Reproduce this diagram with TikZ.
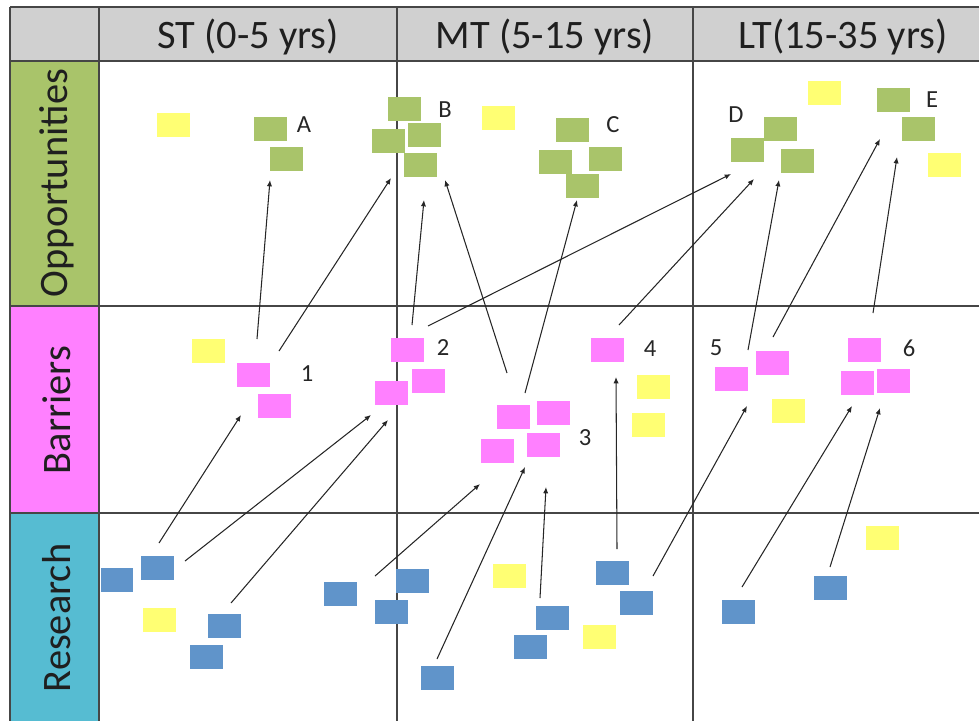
\documentclass[tikz,border=0pt]{standalone}
\usepackage{fontspec}
\setmainfont{Carlito}
\usetikzlibrary{arrows.meta}

\definecolor{hdrgray}{RGB}{208,208,208}
\definecolor{oppgreen}{RGB}{169,196,106}
\definecolor{barpink}{RGB}{255,128,255}
\definecolor{rescyan}{RGB}{86,188,210}
\definecolor{noteblue}{RGB}{96,148,202}
\definecolor{noteyellow}{RGB}{255,255,115}
\definecolor{gridline}{RGB}{70,70,70}

\tikzset{
  note/.style={minimum width=0.66cm, minimum height=0.48cm, inner sep=0pt, outer sep=0pt},
  gnote/.style={note, fill=oppgreen},
  pnote/.style={note, fill=barpink},
  bnote/.style={note, fill=noteblue},
  ynote/.style={note, fill=noteyellow},
  tag/.style={font=\fontsize{14}{16}\selectfont, text=black!85},
  head/.style={font=\fontsize{23}{27}\selectfont, text=black!88},
  link/.style={-{Latex[length=3.6pt,width=3pt]}, line width=0.6pt, black!85},
  grid/.style={line width=1.1pt, gridline},
}

\begin{document}
\begin{tikzpicture}[x=0.02cm, y=-0.02cm]
  \useasboundingbox (0,0) rectangle (979,721);
  % Header and row label cells
  \fill[hdrgray] (10,7) rectangle (979,61);
  \fill[oppgreen] (10,61) rectangle (99,306);
  \fill[barpink] (10,306) rectangle (99,513);
  \fill[rescyan] (10,513) rectangle (99,721);
  % Table lines
  \draw[grid] (10,7) -- (979,7);
  \draw[grid] (10,61) -- (979,61);
  \draw[grid] (10,306) -- (979,306);
  \draw[grid] (10,513) -- (979,513);
  \draw[grid] (10,7) -- (10,721);
  \draw[grid] (99,7) -- (99,721);
  \draw[grid] (397,7) -- (397,721);
  \draw[grid] (693,7) -- (693,721);
  % Column headers
  \node[head] (colST) at (248,37) {ST (0-5 yrs)};
  \node[head] (colMT) at (545,37) {MT (5-15 yrs)};
  \node[head] (colLT) at (843,37) {LT(15-35 yrs)};
  % Row labels
  \node[head, rotate=90] (rowOpp) at (57,183) {Opportunities};
  \node[head, rotate=90] (rowBar) at (57,410) {Barriers};
  \node[head, rotate=90] (rowRes) at (57,618) {Research};

  % Opportunities
  \node[ynote] (oy1) at (173,125) {};
  \node[gnote] (oA1) at (270,129) {};
  \node[gnote] (oA2) at (286,159) {};
  \node[tag] (tA) at (304,125) {A};
  \node[gnote] (oB1) at (404,109) {};
  \node[gnote] (oB2) at (388,141) {};
  \node[gnote] (oB3) at (424,135) {};
  \node[gnote] (oB4) at (420,165) {};
  \node[tag] (tB) at (445,110) {B};
  \node[ynote] (oy2) at (498,118) {};
  \node[gnote] (oC1) at (572,130) {};
  \node[gnote] (oC2) at (555,162) {};
  \node[gnote] (oC3) at (605,159) {};
  \node[gnote] (oC4) at (582,186) {};
  \node[tag] (tC) at (613,125) {C};
  \node[gnote] (oD1) at (780,129) {};
  \node[gnote] (oD2) at (747,150) {};
  \node[gnote] (oD3) at (797,161) {};
  \node[tag] (tD) at (736,115) {D};
  \node[ynote] (oy3) at (824,93) {};
  \node[gnote] (oE1) at (893,100) {};
  \node[gnote] (oE2) at (918,129) {};
  \node[tag] (tE) at (932,100) {E};
  \node[ynote] (oy4) at (944,165) {};

  % Barriers
  \node[ynote] (by1) at (208,351) {};
  \node[pnote] (b1a) at (253,375) {};
  \node[pnote] (b1b) at (274,406) {};
  \node[tag] (t1) at (307,374) {1};
  \node[pnote] (b2a) at (407,350) {};
  \node[pnote] (b2b) at (428,381) {};
  \node[pnote] (b2c) at (391,393) {};
  \node[tag] (t2) at (443,348) {2};
  \node[pnote] (b3a) at (513,417) {};
  \node[pnote] (b3b) at (553,413) {};
  \node[pnote] (b3c) at (497,451) {};
  \node[pnote] (b3d) at (543,445) {};
  \node[tag] (t3) at (585,438) {3};
  \node[pnote] (b4a) at (607,350) {};
  \node[tag] (t4) at (650,349) {4};
  \node[ynote] (by2) at (653,387) {};
  \node[ynote] (by3) at (648,425) {};
  \node[tag] (t5) at (716,348) {5};
  \node[pnote] (b5a) at (731,379) {};
  \node[pnote] (b5b) at (772,363) {};
  \node[ynote] (by4) at (788,411) {};
  \node[pnote] (b6a) at (864,350) {};
  \node[pnote] (b6b) at (857,383) {};
  \node[pnote] (b6c) at (893,381) {};
  \node[tag] (t6) at (909,348) {6};

  % Research
  \node[bnote] (r1) at (117,580) {};
  \node[bnote] (r2) at (157,568) {};
  \node[ynote] (ry1) at (159,620) {};
  \node[bnote] (r3) at (224,626) {};
  \node[bnote] (r4) at (206,657) {};
  \node[bnote] (r5) at (340,594) {};
  \node[bnote] (r6) at (412,581) {};
  \node[bnote] (r7) at (391,612) {};
  \node[bnote] (r8) at (437,678) {};
  \node[ynote] (ry2) at (509,576) {};
  \node[bnote] (r9) at (552,618) {};
  \node[bnote] (r10) at (530,647) {};
  \node[ynote] (ry3) at (599,637) {};
  \node[bnote] (r11) at (612,573) {};
  \node[bnote] (r12) at (636,603) {};
  \node[bnote] (r13) at (738,612) {};
  \node[bnote] (r14) at (830,588) {};
  \node[ynote] (ry4) at (882,538) {};

  % Arrow ends, barriers to opportunities
  \coordinate (ba1) at (257,339);  \coordinate (oa1) at (270,180);
  \coordinate (ba2) at (279,351);  \coordinate (oa2) at (391,178);
  \coordinate (ba3) at (412,325);  \coordinate (oa3) at (424,200);
  \coordinate (ba4) at (428,326);  \coordinate (oa4) at (731,174);
  \coordinate (ba5) at (507,373);  \coordinate (oa5) at (445,180);
  \coordinate (ba6) at (525,393);  \coordinate (oa6) at (577,200);
  \coordinate (ba7) at (619,325);  \coordinate (oa7) at (754,179);
  \coordinate (ba8) at (748,350);  \coordinate (oa8) at (779,180);
  \coordinate (ba9) at (773,337);  \coordinate (oa9) at (880,139);
  \coordinate (ba10) at (873,313); \coordinate (oa10) at (897,157);
  % Arrow ends, research to barriers
  \coordinate (ra1) at (159,543);  \coordinate (bt1) at (241,415);
  \coordinate (ra2) at (185,561);  \coordinate (bt2) at (371,415);
  \coordinate (ra3) at (231,603);  \coordinate (bt3) at (388,420);
  \coordinate (ra4) at (375,576);  \coordinate (bt4) at (480,484);
  \coordinate (ra5) at (437,659);  \coordinate (bt5) at (525,467);
  \coordinate (ra6) at (540,598);  \coordinate (bt6) at (546,487);
  \coordinate (ra7) at (617,549);  \coordinate (bt7) at (616,377);
  \coordinate (ra8) at (653,576);  \coordinate (bt8) at (747,406);
  \coordinate (ra9) at (742,587);  \coordinate (bt9) at (852,406);
  \coordinate (ra10) at (830,567); \coordinate (bt10) at (880,408);

  % Links
  \foreach \i in {1,...,10} {
    \draw[link] (ba\i) -- (oa\i);
    \draw[link] (ra\i) -- (bt\i);
  }
\end{tikzpicture}
\end{document}
